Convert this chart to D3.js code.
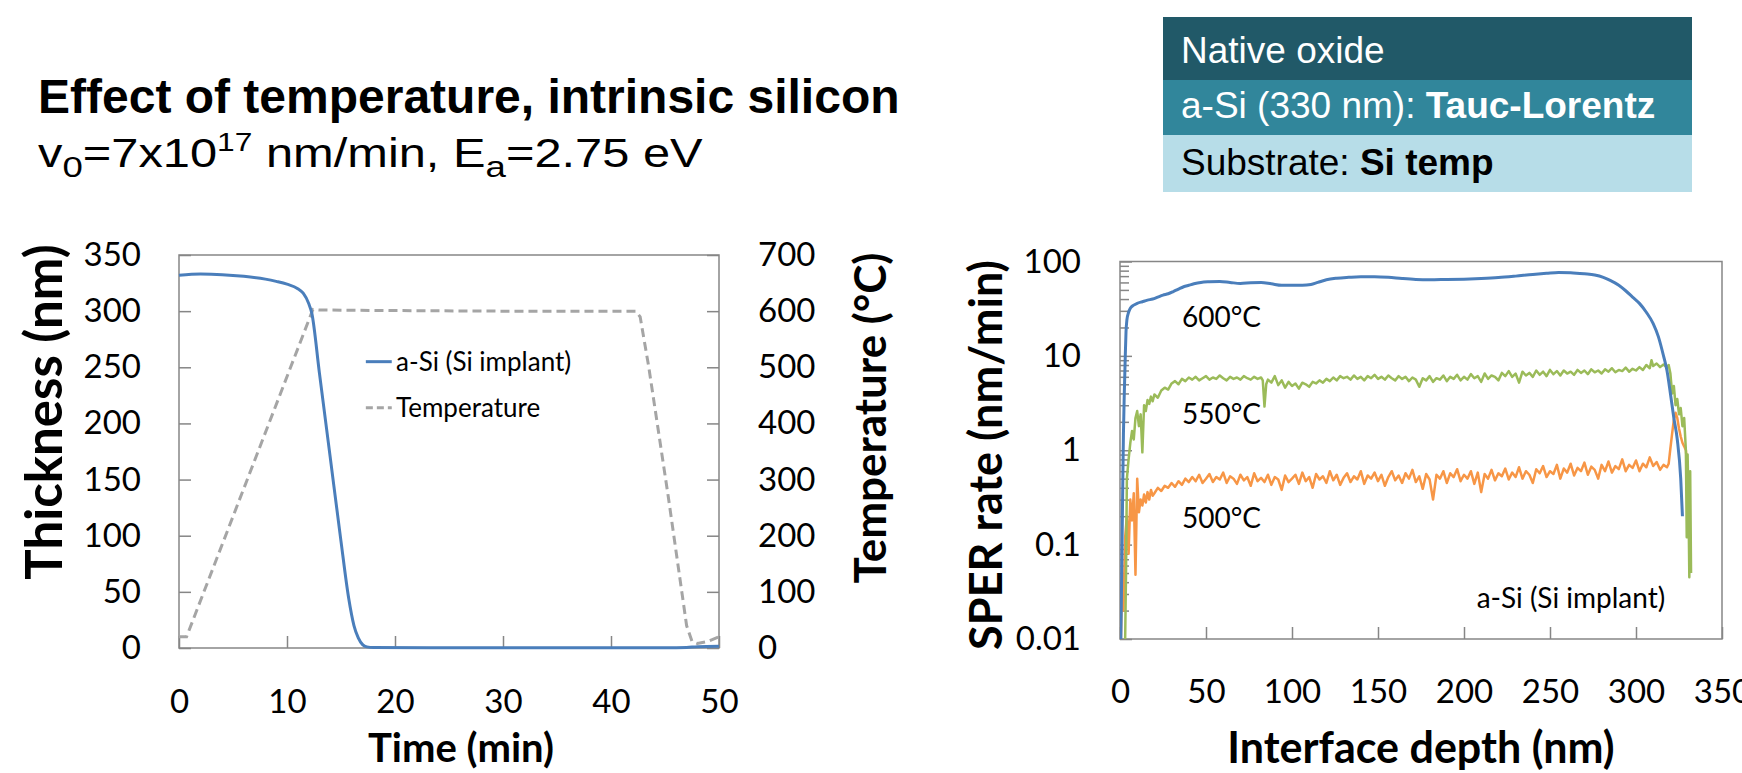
<!DOCTYPE html>
<html>
<head>
<meta charset="utf-8">
<script src="https://cdn.jsdelivr.net/npm/d3@7"></script>
<style>
	body { margin: 0; background: #fff; }
	text { font-family: Lato, "Open Sans", sans-serif; }
	.slide { font-family: "Liberation Sans", Arial, sans-serif; }
</style>
</head>
<body>
<svg id="chart"></svg>
<script>
// ---- data ----
var titleText = 'Effect of temperature, intrinsic silicon';
var layerRows = [
	[['Native oxide', false]],
	[['a-Si (330 nm): ', false], ['Tauc-Lorentz', true]],
	[['Substrate: ', false], ['Si temp', true]]
];

// left chart: thickness and temperature vs time
var timeMin   = [0, 2, 4, 6, 8, 9, 10, 11, 11.5, 12, 12.3, 13, 14, 15, 15.7, 16.2, 16.6, 17, 17.4, 18, 25, 35, 45, 47, 48, 50];
var thickness = [332, 333, 332.5, 331, 328.5, 326.5, 324, 320, 316, 307, 298, 245, 170, 95, 45, 20, 9, 3, 1, 0.5, 0.3, 0.2, 0.3, 0.5, 1.2, 1.5];
var tempTime  = [0, 0.7, 12.4, 13, 20, 30, 42.3, 42.7, 43.5, 45.3, 47, 47.5, 48, 49, 50];
var tempC     = [20, 20, 603, 602, 601, 600, 600, 590, 500, 270, 40, 12, 8, 12, 20];
var timeTicks = [0, 10, 20, 30, 40, 50];
var thickTicks = [0, 50, 100, 150, 200, 250, 300, 350];
var tempTicks = [0, 100, 200, 300, 400, 500, 600, 700];

// right chart: SPER rate vs interface depth
var depthTicks = [0, 50, 100, 150, 200, 250, 300, 350];
var rateTicks = [0.01, 0.1, 1, 10, 100];

var rate600 = [[0.5,0.01],[1,0.05],[1.5,0.3],[2,1.5],[2.5,4],[3,9],[3.5,18],[4,24],[5,29],[6,32],[8,34.5],[10,36],[13,37.5],[16,39],[19,40],[22,42],[25,44],[28,45.5],[31,48],[34,51],[37,54],[40,56],[43,58],[47,60],[52,61],[58,61.5],[64,60],[70,58.5],[76,59.5],[82,60],[88,58],[94,56],[100,56],[106,56],[111,57],[115,60],[120,64],[126,66.5],[133,68],[140,69],[148,69],[156,68],[164,66],[172,64.5],[180,64],[190,64.5],[200,65],[210,66],[220,67.5],[230,70],[240,73],[248,75],[255,76.5],[262,76],[270,74],[276,72],[281,68],[285,63],[290,56],[294,49],[298,42],[302,36],[306,29],[310,22],[313,16],[316,10],[318,7],[320,4],[322,2.2],[324,1.3],[326,0.5],[327,0.2]];

var rate550 = [[3,0.01],[3.5,0.05],[4,0.5],[5,0.8],[6,1.2],[7,1.6],[8,1.3],[9,2.2],[10,2.6],[11,1.8],[12,2.4],[13,0.95],[14,3.0],[15,2.6],[16,3.4],[17,3.1],[18,3.7],[19,3.3],[20,3.9],[22,3.6],[24,4.3],[26,4.6],[28,4.4],[30,5.1],[32,5.4],[34,5.0],[36,5.7],[38,5.4],[40,5.9],[42,5.6],[44,6.0],[46,5.5],[48,5.8],[50,6.1],[52,5.6],[54,5.9],[56,5.7],[58,6.2],[60,5.8],[62,5.5],[64,6.0],[66,5.7],[68,5.9],[70,5.6],[72,6.1],[74,5.8],[76,5.6],[78,6.0],[80,5.7],[82,5.9],[83,5.5],[84,2.9],[85,5.0],[86,5.6],[88,5.2],[90,6.1],[92,4.9],[94,5.5],[96,4.6],[98,5.3],[100,4.8],[102,5.1],[104,4.5],[106,5.2],[108,5.0],[110,4.7],[112,5.3],[114,5.1],[116,5.5],[118,5.2],[120,5.7],[122,5.4],[124,5.9],[126,5.5],[128,6.1],[130,5.8],[132,6.0],[134,5.6],[136,6.2],[138,5.7],[140,6.0],[142,5.5],[144,6.1],[146,5.8],[148,6.3],[150,5.7],[152,6.0],[154,5.6],[156,6.2],[158,5.8],[160,5.5],[162,6.1],[164,5.7],[166,6.0],[168,5.4],[170,5.9],[172,5.6],[174,4.7],[176,5.8],[178,5.5],[180,6.1],[182,5.3],[184,5.8],[186,5.6],[188,6.2],[190,5.4],[192,6.0],[194,5.7],[196,6.3],[198,5.5],[200,6.0],[202,5.6],[204,6.4],[206,5.8],[208,6.1],[210,5.3],[212,6.5],[214,5.7],[216,6.2],[218,6.0],[220,5.5],[222,6.6],[224,6.1],[226,6.9],[228,6.0],[230,6.5],[232,5.2],[234,6.8],[236,6.2],[238,6.6],[240,6.0],[242,7.0],[244,6.3],[246,6.8],[248,6.1],[250,7.1],[252,6.4],[254,6.9],[256,6.2],[258,7.0],[260,6.5],[262,6.8],[264,6.3],[266,7.1],[268,6.6],[270,7.0],[272,6.4],[274,7.2],[276,6.7],[278,7.0],[280,6.5],[282,7.2],[284,6.8],[286,7.4],[288,6.7],[290,7.1],[292,6.9],[294,7.5],[296,6.8],[298,7.3],[300,7.0],[302,7.6],[304,7.1],[306,8.0],[308,7.4],[309,9.0],[310,7.8],[312,8.3],[314,7.6],[316,8.1],[318,7.5],[319,8.0],[320,6.5],[321,4.0],[322,4.8],[323,3.0],[324,3.5],[325,2.4],[326,2.8],[327,1.8],[328,2.2],[329,1.0],[329.5,0.12],[330,0.9],[330.5,0.3],[331,0.045],[331.5,0.6],[332,0.05]];

var rate500 = [[0.5,0.01],[1,0.03],[2,0.02],[3,0.12],[4,0.2],[5,0.08],[6,0.3],[7,0.18],[8,0.35],[9,0.048],[10,0.5],[11,0.22],[12,0.3],[13,0.26],[14,0.34],[15,0.28],[16,0.36],[17,0.3],[18,0.38],[19,0.33],[20,0.35],[22,0.4],[24,0.37],[26,0.42],[28,0.4],[30,0.45],[32,0.41],[34,0.47],[36,0.43],[38,0.5],[40,0.46],[42,0.52],[44,0.47],[46,0.55],[48,0.45],[50,0.5],[52,0.56],[54,0.46],[56,0.52],[58,0.49],[60,0.58],[62,0.45],[64,0.53],[66,0.5],[68,0.44],[70,0.55],[72,0.48],[74,0.52],[76,0.42],[78,0.57],[80,0.47],[82,0.51],[84,0.46],[86,0.55],[88,0.43],[90,0.52],[92,0.49],[94,0.38],[96,0.54],[98,0.46],[100,0.5],[102,0.55],[104,0.44],[106,0.58],[108,0.47],[110,0.52],[112,0.4],[114,0.56],[116,0.49],[118,0.53],[120,0.45],[122,0.6],[124,0.48],[126,0.55],[128,0.43],[130,0.51],[132,0.57],[134,0.46],[136,0.53],[138,0.49],[140,0.6],[142,0.44],[144,0.54],[146,0.5],[148,0.58],[150,0.47],[152,0.55],[154,0.42],[156,0.52],[158,0.6],[160,0.48],[162,0.54],[164,0.45],[166,0.57],[168,0.5],[170,0.62],[172,0.46],[174,0.53],[176,0.39],[178,0.56],[180,0.49],[182,0.3],[184,0.55],[186,0.5],[188,0.6],[190,0.45],[192,0.57],[194,0.52],[196,0.63],[198,0.47],[200,0.55],[202,0.5],[204,0.6],[206,0.44],[208,0.58],[210,0.36],[212,0.56],[214,0.5],[216,0.62],[218,0.48],[220,0.57],[222,0.53],[224,0.64],[226,0.49],[228,0.58],[230,0.52],[232,0.66],[234,0.5],[236,0.6],[238,0.55],[240,0.45],[242,0.63],[244,0.57],[246,0.68],[248,0.52],[250,0.6],[252,0.56],[254,0.7],[256,0.5],[258,0.64],[260,0.58],[262,0.72],[264,0.54],[266,0.65],[268,0.6],[270,0.74],[272,0.55],[274,0.67],[276,0.62],[278,0.5],[280,0.7],[282,0.6],[284,0.76],[286,0.58],[288,0.68],[290,0.63],[292,0.8],[294,0.6],[296,0.7],[298,0.65],[300,0.78],[302,0.6],[304,0.72],[306,0.66],[308,0.84],[310,0.68],[312,0.75],[314,0.62],[316,0.7],[318,0.66],[319,0.72],[320,1.05],[321,1.5],[322,2.1],[323,2.5],[324,2.2],[325,1.7],[326,1.4],[327,1.2],[328,1.1],[329,1.0],[330,0.6],[331,0.3]];

var rateSeries = [
	{ name: '500°C', values: rate500, color: '#f79646', width: 2.5, labelAt: [36, 0.19] },
	{ name: '550°C', values: rate550, color: '#9bbb59', width: 2.5, labelAt: [36, 2.4] },
	{ name: '600°C', values: rate600, color: '#4a7ebb', width: 3, labelAt: [36, 26] }
];

// ---- svg ----
var W = 1742, H = 773;
var svg = d3.select('#chart').attr('width', W).attr('height', H);
svg.append('rect').attr('width', W).attr('height', H).attr('fill', '#fff');

var axisGrey = '#868686';

// slide heading
svg.append('text').attr('class', 'slide')
	.attr('x', 38).attr('y', 113)
	.attr('font-size', 48).attr('font-weight', 'bold')
	.text(titleText);

var sub = svg.append('g').attr('transform', 'translate(38,167) scale(1.22,1)')
	.append('text').attr('class', 'slide').attr('font-size', 40);
sub.append('tspan').text('v');
sub.append('tspan').attr('font-size', 30).attr('dy', 10).text('0');
sub.append('tspan').attr('dy', -10).text('=7x10');
sub.append('tspan').attr('font-size', 26).attr('dy', -16).text('17');
sub.append('tspan').attr('dy', 16).text(' nm/min, E');
sub.append('tspan').attr('font-size', 30).attr('dy', 10).text('a');
sub.append('tspan').attr('dy', -10).text('=2.75 eV');

// layer stack box
var boxX = 1163, boxW = 529;
var rowTops = [17, 80, 135, 192];
var rowFill = ['#215968', '#31869b', '#b7dde8'];
var rowInk = ['#fff', '#fff', '#000'];
layerRows.forEach(function(parts, i) {
	svg.append('rect')
		.attr('x', boxX).attr('y', rowTops[i])
		.attr('width', boxW).attr('height', rowTops[i + 1] - rowTops[i])
		.attr('fill', rowFill[i]);
	var t = svg.append('text').attr('class', 'slide')
		.attr('x', boxX + 18).attr('y', rowTops[i + 1] - 17)
		.attr('font-size', 37).attr('fill', rowInk[i]);
	parts.forEach(function(p) {
		t.append('tspan').attr('font-weight', p[1] ? 'bold' : 'normal').text(p[0]);
	});
});

function styleAxis(g) {
	g.attr('font-family', 'Lato, sans-serif').attr('font-size', 33);
	g.select('.domain').remove();
	g.selectAll('.tick line').attr('stroke', axisGrey).attr('stroke-width', 1.5);
	g.selectAll('.tick text').attr('fill', '#000');
}

function axisTitle(x, y, text, rotate, size) {
	svg.append('text')
		.attr('transform', 'translate(' + [x, y] + ')' + (rotate ? ' rotate(-90)' : ''))
		.attr('text-anchor', 'middle').attr('dy', '0.35em')
		.attr('font-size', size).attr('font-weight', 'bold')
		.text(text);
}

///////////////////////////////////////////////////////////////////////////
////////// left chart: thickness / temperature vs time ////////////////////
///////////////////////////////////////////////////////////////////////////
var xL = d3.scaleLinear().domain([0, 50]).range([179, 719]);
var yL = d3.scaleLinear().domain([0, 350]).range([648, 255]);
var yT = d3.scaleLinear().domain([0, 700]).range([648, 255]);

svg.append('g').attr('transform', 'translate(0,648)')
	.call(d3.axisBottom(xL).tickValues(timeTicks).tickSizeInner(-12).tickSizeOuter(0).tickPadding(42))
	.call(styleAxis);
svg.append('g').attr('transform', 'translate(179,0)')
	.call(d3.axisLeft(yL).tickValues(thickTicks).tickSizeInner(-12).tickSizeOuter(0).tickPadding(38))
	.call(styleAxis);
svg.append('g').attr('transform', 'translate(719,0)')
	.call(d3.axisRight(yT).tickValues(tempTicks).tickSizeInner(-12).tickSizeOuter(0).tickPadding(39))
	.call(styleAxis);

svg.append('rect')
	.attr('x', xL(0)).attr('y', yL(350))
	.attr('width', xL(50) - xL(0)).attr('height', yL(0) - yL(350))
	.attr('fill', 'none').attr('stroke', axisGrey).attr('stroke-width', 1.5);

var tempLine = d3.line().x(d => xL(d[0])).y(d => yT(d[1]));
svg.append('path')
	.attr('d', tempLine(d3.zip(tempTime, tempC)))
	.attr('fill', 'none').attr('stroke', '#a5a5a5').attr('stroke-width', 3)
	.attr('stroke-dasharray', '9,5');

var thickLine = d3.line().x(d => xL(d[0])).y(d => yL(d[1])).curve(d3.curveMonotoneX);
svg.append('path')
	.attr('d', thickLine(d3.zip(timeMin, thickness)))
	.attr('fill', 'none').attr('stroke', '#4a7ebb').attr('stroke-width', 3);

// legend
var legend = [
	{ name: 'a-Si (Si implant)', color: '#4a7ebb', dash: null, y: 255 },
	{ name: 'Temperature', color: '#a5a5a5', dash: '7,4', y: 214 }
];
legend.forEach(function(l) {
	svg.append('line')
		.attr('x1', xL(17.3)).attr('x2', xL(19.7))
		.attr('y1', yL(l.y)).attr('y2', yL(l.y))
		.attr('stroke', l.color).attr('stroke-width', 3)
		.attr('stroke-dasharray', l.dash);
	svg.append('text')
		.attr('x', xL(20.1)).attr('y', yL(l.y)).attr('dy', '0.35em')
		.attr('font-size', 26)
		.text(l.name);
});

axisTitle(44, 412, 'Thickness (nm)', true, 51);
axisTitle(871, 418, 'Temperature (°C)', true, 44);
axisTitle(461, 748, 'Time (min)', false, 40);

///////////////////////////////////////////////////////////////////////////
////////// right chart: SPER rate vs depth (log) //////////////////////////
///////////////////////////////////////////////////////////////////////////
var xR = d3.scaleLinear().domain([0, 350]).range([1120, 1722]);
var yR = d3.scaleLog().domain([0.01, 100]).range([639, 261.5]);

var minorTicks = yR.ticks().filter(d => Math.abs(Math.log10(d) - Math.round(Math.log10(d))) > 1e-6);

svg.append('g').attr('transform', 'translate(0,639)')
	.call(d3.axisBottom(xR).tickValues(depthTicks).tickSizeInner(-12).tickSizeOuter(0).tickPadding(41))
	.call(styleAxis);
svg.append('g').attr('transform', 'translate(1120,0)')
	.call(d3.axisLeft(yR).tickValues(rateTicks).tickFormat(d => String(d)).tickSizeInner(-12).tickSizeOuter(0).tickPadding(39))
	.call(styleAxis);
svg.append('g').attr('transform', 'translate(1120,0)')
	.call(d3.axisLeft(yR).tickValues(minorTicks).tickFormat('').tickSizeInner(-9).tickSizeOuter(0))
	.call(styleAxis);

svg.append('rect')
	.attr('x', xR(0)).attr('y', yR(100))
	.attr('width', xR(350) - xR(0)).attr('height', yR(0.01) - yR(100))
	.attr('fill', 'none').attr('stroke', axisGrey).attr('stroke-width', 1.5);

svg.append('clipPath').attr('id', 'clipR')
	.append('rect')
	.attr('x', xR(0)).attr('y', yR(100))
	.attr('width', xR(350) - xR(0)).attr('height', yR(0.01) - yR(100));

var rateLine = d3.line().x(d => xR(d[0])).y(d => yR(d[1]));
var plotR = svg.append('g').attr('clip-path', 'url(#clipR)');
rateSeries.forEach(function(s) {
	plotR.append('path')
		.attr('d', s.name === '600°C' ? rateLine.curve(d3.curveMonotoneX)(s.values) : rateLine.curve(d3.curveLinear)(s.values))
		.attr('fill', 'none').attr('stroke', s.color).attr('stroke-width', s.width)
		.attr('stroke-linejoin', 'round');
});

rateSeries.forEach(function(s) {
	svg.append('text')
		.attr('x', xR(s.labelAt[0])).attr('y', yR(s.labelAt[1])).attr('dy', '0.35em')
		.attr('font-size', 28)
		.text(s.name);
});
svg.append('text')
	.attr('x', xR(317)).attr('y', yR(0.027)).attr('dy', '0.35em')
	.attr('text-anchor', 'end').attr('font-size', 28)
	.text('a-Si (Si implant)');

axisTitle(986, 455, 'SPER rate (nm/min)', true, 45);
axisTitle(1421, 748, 'Interface depth (nm)', false, 43);
</script>
</body>
</html>
